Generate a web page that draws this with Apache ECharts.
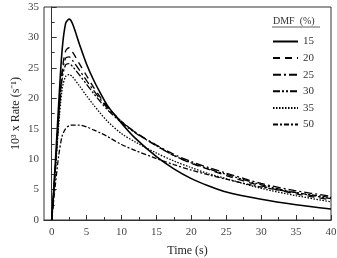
<!DOCTYPE html>
<html>
<head>
<meta charset="utf-8">
<script src="https://cdn.jsdelivr.net/npm/echarts@6/dist/echarts.min.js"></script>
<style>
  html, body { margin: 0; padding: 0; background: #fff; }
  #main { width: 337px; height: 258px; }
</style>
</head>
<body>
<div id="main"></div>
<script>
// time points (s)
var times = [0, 0.5, 1, 1.5, 2, 2.5, 3, 4, 5, 6, 7, 8, 10, 12, 15, 17.5, 20, 22.5, 25, 30, 35, 40];
// 10^3 x rate, one array per DMF content
var dmf15 = [0, 9, 19, 28, 32.3, 33, 32.2, 28.8, 25.6, 23, 20.8, 18.8, 15.9, 13.4, 10.4, 8.4, 6.8, 5.6, 4.6, 3.4, 2.5, 1.8];
var dmf20 = [0, 8, 17, 24.5, 27.8, 28.3, 27.6, 25.6, 23.7, 21.8, 20.1, 18.6, 16.2, 14.4, 12.2, 10.6, 9.3, 8.3, 7.3, 5.6, 4.3, 3.3];
var dmf25 = [0, 8, 17, 24, 26.6, 26.8, 26.2, 24.6, 22.9, 21.3, 19.8, 18.4, 16.2, 14.4, 12.3, 10.8, 9.6, 8.6, 7.7, 6.0, 4.8, 3.9];
var dmf30 = [0, 8, 16.5, 23.2, 25.5, 25.7, 25.2, 23.8, 22.3, 20.8, 19.4, 18.1, 16.0, 14.3, 12.2, 10.6, 9.4, 8.4, 7.5, 5.8, 4.5, 3.5];
var dmf35 = [0, 7.5, 15.5, 21.5, 23.6, 23.9, 23.5, 22, 20.4, 18.9, 17.5, 16.2, 14.2, 12.8, 11.0, 9.7, 8.6, 7.6, 6.8, 5.2, 4.0, 3.0];
var dmf50 = [0, 5.5, 10.5, 13.8, 15.0, 15.5, 15.6, 15.6, 15.3, 14.8, 14.3, 13.7, 12.4, 11.4, 10.1, 9.1, 8.2, 7.4, 6.7, 5.4, 4.5, 3.7];

var seriesNames = ['15', '20', '25', '30', '35', '50'];
var seriesData = [dmf15, dmf20, dmf25, dmf30, dmf35, dmf50];

var xMajor = [0, 5, 10, 15, 20, 25, 30, 35, 40];
var xAllTicks = [0, 2.5, 5, 7.5, 10, 12.5, 15, 17.5, 20, 22.5, 25, 27.5, 30, 32.5, 35, 37.5, 40];

var serif = 'Liberation Serif';
var dashes = [
  'solid',
  [7, 5],
  [8, 3, 2, 3],
  [7, 2, 2, 2, 2, 2],
  [1.5, 1.5],
  [5, 2, 2, 2]
];
var widths = [1.6, 1.3, 1.3, 1.3, 1.3, 1.3];

var chart = echarts.init(document.getElementById('main'), null, { renderer: 'canvas' });

function pairs(ys) {
  return times.map(function (t, i) { return [t, ys[i]]; });
}

var series = seriesNames.map(function (n, i) {
  return {
    name: n,
    type: 'line',
    xAxisIndex: 0,
    smooth: 0.3,
    symbol: 'none',
    data: pairs(seriesData[i]),
    lineStyle: { color: '#000', width: widths[i], type: dashes[i] },
    itemStyle: { color: '#000' }
  };
});

var option = {
  animation: false,
  backgroundColor: '#fff',
  grid: {
    left: 44, right: 6, top: 7, bottom: 38,
    outerBoundsMode: 'none',
    show: true, borderColor: '#333', borderWidth: 1
  },
  legend: {
    orient: 'vertical',
    left: 267,
    top: 31,
    itemWidth: 25,
    itemHeight: 8,
    itemGap: 5.6,
    data: seriesNames,
    itemStyle: { opacity: 0 },
    textStyle: { fontFamily: serif, fontSize: 11, color: '#333' }
  },
  graphic: [
    {
      type: 'text', left: 273, top: 16,
      style: { text: 'DMF  (%)', font: '10px "Liberation Serif"', fill: '#333' }
    },
    {
      type: 'line', shape: { x1: 272, y1: 27, x2: 320, y2: 27 },
      style: { stroke: '#333', lineWidth: 0.8 }
    }
  ],
  xAxis: [
    {
      type: 'value', min: -1.1, max: 40,
      name: 'Time (s)', nameLocation: 'middle', nameGap: 25,
      nameTextStyle: { fontFamily: serif, fontSize: 12, color: '#222' },
      axisLine: { lineStyle: { color: '#333' } },
      axisTick: { inside: true, length: 3, customValues: xAllTicks, lineStyle: { color: '#333' } },
      axisLabel: { customValues: xMajor, fontFamily: serif, fontSize: 11, color: '#444', margin: 7 },
      splitLine: { show: false }
    },
    {
      type: 'value', min: -1.1, max: 40, position: 'bottom', offset: 0,
      axisLine: { show: true, lineStyle: { color: '#333' } },
      axisTick: { show: true, inside: true, length: 5, customValues: xMajor, lineStyle: { color: '#333' } },
      axisLabel: { show: false },
      splitLine: { show: false }
    }
  ],
  yAxis: {
    type: 'value', min: 0, max: 35, interval: 5,
    name: '10³ x Rate (s⁻¹)', nameLocation: 'middle', nameGap: 22,
    nameMoveOverlap: false,
    nameTextStyle: { fontFamily: serif, fontSize: 12, color: '#222' },
    axisLine: { show: true, lineStyle: { color: '#333' } },
    axisTick: { show: true, inside: true, length: 5, lineStyle: { color: '#333' } },
    minorTick: { show: true, splitNumber: 2, length: 3, lineStyle: { color: '#333' } },
    axisLabel: { fontFamily: serif, fontSize: 11, color: '#444', margin: 5 },
    splitLine: { show: false }
  },
  series: series
};

chart.setOption(option);
</script>
</body>
</html>
